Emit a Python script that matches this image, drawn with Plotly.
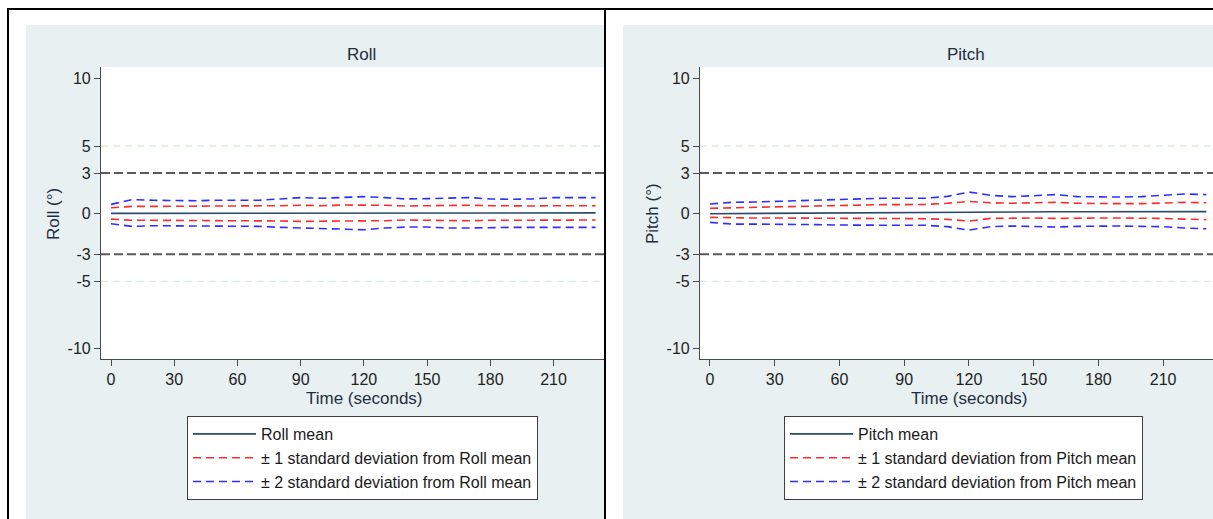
import plotly.graph_objects as go

# ---------------- data ----------------
time_s = [0, 10, 20, 30, 40, 50, 60, 70, 80, 90, 100, 110,
          120, 130, 140, 150, 160, 170, 180, 190, 200, 210, 220, 230]

roll_mean = [0.02, 0.02, 0.02, 0.02, 0.02, 0.02, 0.03, 0.03, 0.03, 0.03, 0.03, 0.04,
             0.04, 0.04, 0.04, 0.04, 0.04, 0.04, 0.04, 0.04, 0.04, 0.05, 0.06, 0.06]
roll_p1 = [0.44, 0.54, 0.54, 0.54, 0.54, 0.54, 0.55, 0.55, 0.59, 0.62, 0.59, 0.64,
           0.64, 0.62, 0.57, 0.59, 0.62, 0.62, 0.59, 0.57, 0.57, 0.59, 0.59, 0.59]
roll_m1 = [-0.40, -0.49, -0.49, -0.49, -0.49, -0.49, -0.49, -0.49, -0.54, -0.57, -0.57, -0.57,
           -0.57, -0.52, -0.47, -0.49, -0.52, -0.52, -0.49, -0.49, -0.49, -0.47, -0.47, -0.47]
roll_p2 = [0.69, 1.04, 0.99, 0.96, 0.96, 0.99, 1.01, 0.99, 1.09, 1.19, 1.14, 1.21,
           1.26, 1.19, 1.09, 1.11, 1.16, 1.19, 1.09, 1.06, 1.09, 1.19, 1.19, 1.19]
roll_m2 = [-0.74, -0.94, -0.89, -0.89, -0.89, -0.89, -0.91, -0.94, -1.01, -1.06, -1.06, -1.14,
           -1.19, -1.06, -0.99, -0.99, -1.06, -1.06, -1.01, -1.01, -1.01, -1.01, -1.01, -1.01]

pitch_mean = [0.00, 0.01, 0.02, 0.03, 0.04, 0.05, 0.06, 0.07, 0.08, 0.09, 0.10, 0.12,
              0.15, 0.14, 0.14, 0.14, 0.14, 0.14, 0.14, 0.14, 0.14, 0.14, 0.15, 0.15]
pitch_p1 = [0.40, 0.44, 0.47, 0.49, 0.54, 0.59, 0.62, 0.64, 0.67, 0.67, 0.69, 0.77,
            0.91, 0.81, 0.77, 0.81, 0.84, 0.77, 0.74, 0.74, 0.74, 0.79, 0.84, 0.81]
pitch_m1 = [-0.27, -0.32, -0.32, -0.32, -0.32, -0.35, -0.37, -0.37, -0.37, -0.37, -0.37, -0.42,
            -0.55, -0.35, -0.32, -0.32, -0.35, -0.32, -0.32, -0.32, -0.32, -0.35, -0.40, -0.44]
pitch_p2 = [0.72, 0.84, 0.86, 0.91, 0.96, 1.01, 1.09, 1.11, 1.14, 1.14, 1.14, 1.28,
            1.60, 1.36, 1.26, 1.33, 1.41, 1.26, 1.23, 1.23, 1.26, 1.38, 1.46, 1.41]
pitch_m2 = [-0.64, -0.77, -0.77, -0.77, -0.79, -0.81, -0.84, -0.86, -0.86, -0.86, -0.86, -0.96,
            -1.22, -0.96, -0.91, -0.94, -0.99, -0.94, -0.91, -0.91, -0.94, -0.96, -1.06, -1.11]

y_ticks = [-10, -5, -3, 0, 3, 5, 10]
y_tick_labels = ["-10", "-5", "-3", "0", "3", "5", "10"]
x_ticks = [0, 30, 60, 90, 120, 150, 180, 210]
x_tick_labels = ["0", "30", "60", "90", "120", "150", "180", "210"]
limit_lines = [3, -3]
guide_lines = [5, -5]

# ---------------- layout helpers ----------------
W, H = 1213, 519
def px(x):
    return x / W
def py(y):
    return 1 - y / H

FONT = "Liberation Sans, Arial, sans-serif"
NAVY = "#2a4a6c"
RED = "#ff2a2a"
BLUE = "#2e2eff"
AXC = "#4a4a4a"
PANEL_BG = "#e8f0f2"

panels = [
    dict(name="Roll", mean=roll_mean, p1=roll_p1, m1=roll_m1, p2=roll_p2, m2=roll_m2,
         xl=101, xr=605, xrange=[-4.75, 234.45], bg=(26, 605), legx=187, legend="legend",
         ax="x", ay="y", tcx=361, ytx=53, xtx=364),
    dict(name="Pitch", mean=pitch_mean, p1=pitch_p1, m1=pitch_m1, p2=pitch_p2, m2=pitch_m2,
         xl=700, xr=1213, xrange=[-4.63, 233.1], bg=(623, 1213), legx=784, legend="legend2",
         ax="x2", ay="y2", tcx=966, ytx=652, xtx=969),
]
PLOT_TOP, PLOT_BOT = 67, 359
YRANGE = [-10.75, 10.85]

fig = go.Figure()
shapes = []
annotations = []

for i, p in enumerate(panels):
    nm = p["name"]
    leg = p["legend"]
    common = dict(x=time_s, xaxis=p["ax"], yaxis=p["ay"], legend=leg)
    fig.add_trace(go.Scatter(y=p["mean"], name=f"{nm} mean", mode="lines",
                             line=dict(color=NAVY, width=1.6), **common))
    fig.add_trace(go.Scatter(y=p["p1"], name=f"± 1 standard deviation from {nm} mean",
                             mode="lines", legendgroup=f"{nm}1",
                             line=dict(color=RED, width=1.6, dash="8px,5px"), **common))
    fig.add_trace(go.Scatter(y=p["m1"], name=f"± 1 standard deviation from {nm} mean",
                             mode="lines", legendgroup=f"{nm}1", showlegend=False,
                             line=dict(color=RED, width=1.6, dash="8px,5px"), **common))
    fig.add_trace(go.Scatter(y=p["p2"], name=f"± 2 standard deviation from {nm} mean",
                             mode="lines", legendgroup=f"{nm}2",
                             line=dict(color=BLUE, width=1.6, dash="8px,5px"), **common))
    fig.add_trace(go.Scatter(y=p["m2"], name=f"± 2 standard deviation from {nm} mean",
                             mode="lines", legendgroup=f"{nm}2", showlegend=False,
                             line=dict(color=BLUE, width=1.6, dash="8px,5px"), **common))

    # panel background and white plot region
    shapes.append(dict(type="rect", xref="paper", yref="paper", layer="below",
                       x0=px(p["bg"][0]), x1=px(p["bg"][1]), y0=0, y1=py(25),
                       fillcolor=PANEL_BG, line=dict(width=0)))
    shapes.append(dict(type="rect", xref="paper", yref="paper", layer="below",
                       x0=px(p["xl"]), x1=px(p["xr"]), y0=py(PLOT_BOT), y1=py(PLOT_TOP),
                       fillcolor="white", line=dict(width=0)))
    xd = "x domain" if i == 0 else "x2 domain"
    yr = p["ay"]
    for v in guide_lines:
        shapes.append(dict(type="line", xref=xd, yref=yr, x0=0, x1=1, y0=v, y1=v, layer="below",
                           line=dict(color="#d3ead3", width=1.2, dash="7px,5px")))
    for v in limit_lines:
        shapes.append(dict(type="line", xref=xd, yref=yr, x0=0, x1=1, y0=v, y1=v, layer="below",
                           line=dict(color="#5a5a5a", width=2, dash="9px,4px")))

    annotations += [
        dict(text=nm, x=px(p["tcx"]), y=py(54), xref="paper", yref="paper", showarrow=False,
             xanchor="center", yanchor="middle", font=dict(size=17, color="#1e2e40", family=FONT)),
        dict(text=f"{nm} (°)", x=px(p["ytx"]), y=py(214), xref="paper", yref="paper",
             showarrow=False, textangle=-90, xanchor="center", yanchor="middle",
             font=dict(size=17, color="#1e2e40", family=FONT)),
        dict(text="Time (seconds)", x=px(p["xtx"]), y=py(398), xref="paper", yref="paper",
             showarrow=False, xanchor="center", yanchor="middle",
             font=dict(size=17, color="#1e2e40", family=FONT)),
    ]

# border lines of the enclosing table
for (x0, y0, x1, y1) in [(7, 9, 1213, 9), (8, 9, 8, 519), (605, 9, 605, 519)]:
    shapes.append(dict(type="line", xref="paper", yref="paper", layer="above",
                       x0=px(x0), x1=px(x1), y0=py(y0), y1=py(y1),
                       line=dict(color="black", width=2)))

axis_common = dict(showgrid=False, zeroline=False, showline=True, linecolor=AXC, linewidth=1.2,
                   ticks="outside", ticklen=6, tickcolor=AXC, tickwidth=1.2,
                   tickfont=dict(size=16, color="#222222", family=FONT))

legend_common = dict(xanchor="left", yanchor="top", bgcolor="white", bordercolor="#404040",
                     borderwidth=1, font=dict(size=16, color="#1a1a1a", family=FONT),
                     itemwidth=63, tracegroupgap=0, orientation="v")

fig.update_layout(
    width=W, height=H, margin=dict(l=0, r=0, t=0, b=0),
    paper_bgcolor="white", plot_bgcolor="rgba(0,0,0,0)",
    font=dict(family=FONT),
    shapes=shapes, annotations=annotations,
    xaxis=dict(domain=[px(101), px(605)], range=panels[0]["xrange"], tickvals=x_ticks,
               ticktext=x_tick_labels, anchor="y", **axis_common),
    yaxis=dict(domain=[py(PLOT_BOT), py(PLOT_TOP)], range=YRANGE, tickvals=y_ticks,
               ticktext=y_tick_labels, anchor="x", **axis_common),
    xaxis2=dict(domain=[px(700), 1.0], range=panels[1]["xrange"], tickvals=x_ticks,
                ticktext=x_tick_labels, anchor="y2", **axis_common),
    yaxis2=dict(domain=[py(PLOT_BOT), py(PLOT_TOP)], range=YRANGE, tickvals=y_ticks,
                ticktext=y_tick_labels, anchor="x2", **axis_common),
    legend=dict(x=px(187), y=py(416), **legend_common),
    legend2=dict(x=px(784), y=py(416), **legend_common),
    showlegend=True,
)

fig.write_html("out.html")
